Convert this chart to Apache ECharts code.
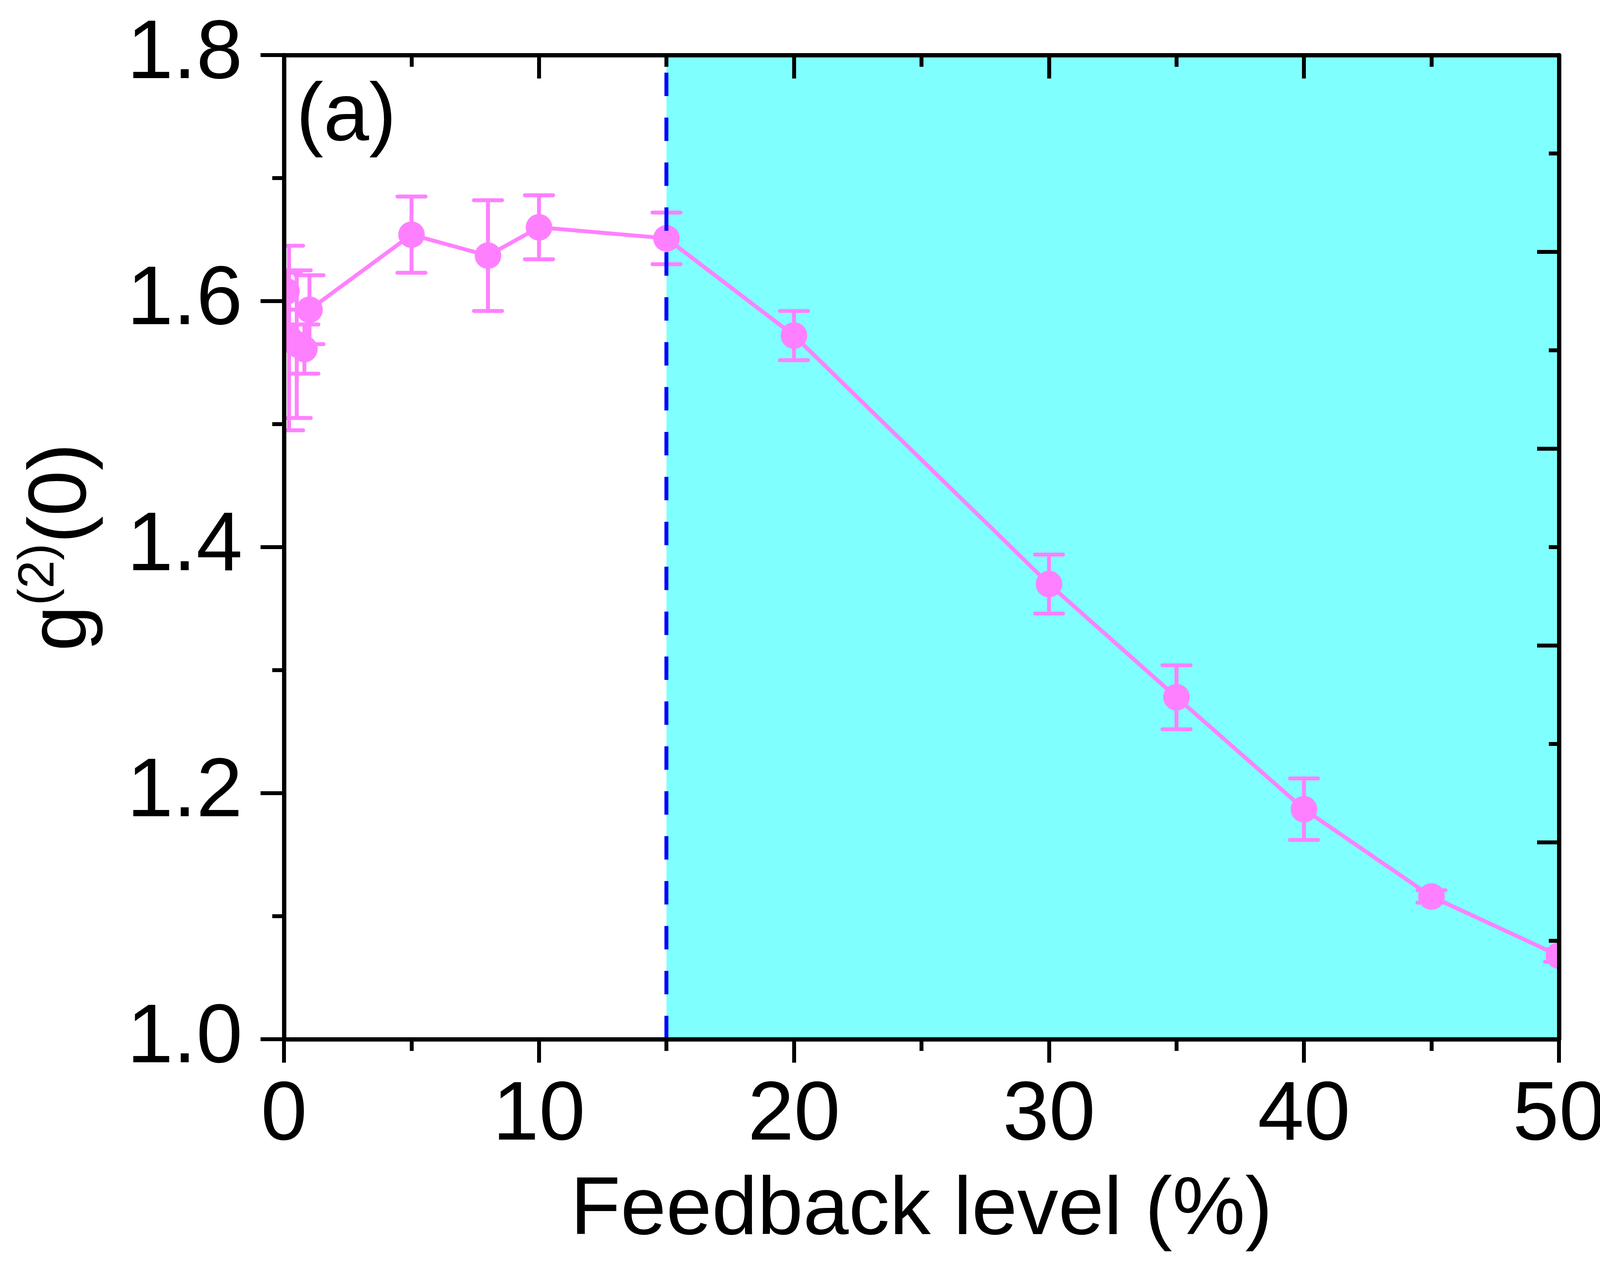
<!DOCTYPE html>
<html lang="en">
<head>
<meta charset="UTF-8">
<title>g2 vs feedback level</title>
<style>
  html, body { margin: 0; padding: 0; background: #fff; }
  #chart { width: 4123px; height: 3234px; }
</style>
</head>
<body>
<div id="chart"></div>
<script src="https://cdn.jsdelivr.net/npm/echarts/dist/echarts.min.js"></script>
<script>
// feedback level (%) and measured g2(0) with error bars
const feedback = [0.1, 0.2, 0.5, 0.8, 1, 5, 8, 10, 15, 20, 30, 35, 40, 45, 50];
const g2 = [1.608, 1.570, 1.565, 1.561, 1.593, 1.654, 1.637, 1.660, 1.651, 1.572, 1.370, 1.278, 1.187, 1.116, 1.068];
const g2Err = [0.015, 0.075, 0.060, 0.020, 0.028, 0.031, 0.045, 0.026, 0.021, 0.020, 0.024, 0.026, 0.025, 0.005, 0.005];

// shaded region and threshold line
const regionStart = 15;
const regionEnd = 50;

const xTicks = [0, 10, 20, 30, 40, 50];
const yTicks = [1.0, 1.2, 1.4, 1.6, 1.8];

const pink = '#FF80FF';
const font = "'Liberation Sans', Arial, sans-serif";

const points = feedback.map((x, i) => [x, g2[i]]);
const bars = feedback.map((x, i) => [x, g2[i] - g2Err[i], g2[i] + g2Err[i], g2[i]]);

const chart = echarts.init(document.getElementById('chart'));

const axisLine = { show: true, onZero: false, lineStyle: { color: '#000', width: 11 } };

chart.setOption({
    animation: false,
    backgroundColor: '#fff',
    grid: { left: 727, right: 132, top: 141, bottom: 573, outerBoundsMode: 'none', containLabel: false },
    xAxis: [{
        type: 'value',
        position: 'bottom',
        min: xTicks[0], max: xTicks[xTicks.length - 1], interval: 10,
        z: 5,
        axisLine: axisLine,
        axisTick: { show: true, inside: false, length: 60, lineStyle: { width: 10, color: '#000' } },
        minorTick: { show: true, splitNumber: 2, length: 30, lineStyle: { width: 10, color: '#000' } },
        splitLine: { show: false },
        axisLabel: { margin: 92, fontSize: 213, fontFamily: font, color: '#000' },
        name: 'Feedback level (%)',
        nameLocation: 'middle',
        nameGap: 336,
        nameMoveOverlap: false,
        nameTextStyle: { fontSize: 210, fontFamily: font, color: '#000' }
    }, {
        type: 'value',
        position: 'top',
        min: 0, max: 50, interval: 10,
        z: 5,
        axisLine: axisLine,
        axisTick: { show: true, inside: true, length: 60, lineStyle: { width: 10, color: '#000' } },
        minorTick: { show: true, splitNumber: 2, length: 30, lineStyle: { width: 10, color: '#000' } },
        splitLine: { show: false },
        axisLabel: { show: false }
    }],
    yAxis: [{
        type: 'value',
        position: 'left',
        min: yTicks[0], max: yTicks[yTicks.length - 1], interval: 0.2,
        z: 5,
        axisLine: axisLine,
        axisTick: { show: true, inside: false, length: 60, lineStyle: { width: 10, color: '#000' } },
        minorTick: { show: true, splitNumber: 2, length: 30, lineStyle: { width: 10, color: '#000' } },
        splitLine: { show: false },
        axisLabel: { margin: 106, fontSize: 213, fontFamily: font, color: '#000',
            formatter: v => v.toFixed(1) },
        name: '{a|g}{b|(2)}{a|(0)}',
        nameLocation: 'middle',
        nameRotate: 90,
        nameGap: 441,
        nameMoveOverlap: false,
        nameTextStyle: {
            fontFamily: font, color: '#000',
            rich: {
                a: { fontSize: 210, lineHeight: 250, fontFamily: font, color: '#000' },
                b: { fontSize: 130, lineHeight: 130, verticalAlign: 'top', fontFamily: font, color: '#000' }
            }
        }
    }, {
        // right frame axis has its own tick spacing
        type: 'value',
        position: 'right',
        min: 0, max: 10, interval: 2,
        z: 5,
        axisLine: axisLine,
        axisTick: { show: true, inside: true, length: 56, lineStyle: { width: 10, color: '#000' } },
        minorTick: { show: true, splitNumber: 2, length: 26, lineStyle: { width: 10, color: '#000' } },
        splitLine: { show: false },
        axisLabel: { show: false }
    }],
    graphic: [{
        type: 'text',
        left: 758,
        top: 196,
        style: { text: '(a)', font: '210px ' + font, fill: '#000' }
    }],
    series: [{
        // background region + threshold
        type: 'line',
        data: [],
        z: 1,
        silent: true,
        markArea: {
            silent: true,
            itemStyle: { color: '#80FFFF', opacity: 1 },
            data: [[{ xAxis: regionStart }, { xAxis: regionEnd }]]
        },
        markLine: {
            silent: true,
            symbol: 'none',
            label: { show: false },
            lineStyle: { color: '#0000FF', width: 10, type: [60, 55] },
            data: [{ xAxis: regionStart }]
        }
    }, {
        type: 'line',
        data: points,
        z: 3,
        clip: true,
        symbol: 'none',
        lineStyle: { color: pink, width: 10 }
    }, {
        // error bars and markers, clipped to the plot frame
        type: 'custom',
        z: 4,
        data: bars,
        renderItem: function (params, api) {
            const x = api.value(0);
            const lo = api.coord([x, api.value(1)]);
            const hi = api.coord([x, api.value(2)]);
            const c = api.coord([x, api.value(3)]);
            const half = 36;
            const st = { stroke: pink, lineWidth: 10, lineCap: 'round' };
            const cs = params.coordSys;
            return {
                type: 'group',
                clipPath: { type: 'rect', shape: { x: cs.x, y: cs.y, width: cs.width, height: cs.height } },
                children: [
                    { type: 'line', shape: { x1: lo[0], y1: lo[1], x2: hi[0], y2: hi[1] }, style: st },
                    { type: 'line', shape: { x1: hi[0] - half, y1: hi[1], x2: hi[0] + half, y2: hi[1] }, style: st },
                    { type: 'line', shape: { x1: lo[0] - half, y1: lo[1], x2: lo[0] + half, y2: lo[1] }, style: st },
                    { type: 'circle', shape: { cx: c[0], cy: c[1], r: 34 }, style: { fill: pink } }
                ]
            };
        }
    }]
});
</script>
</body>
</html>
